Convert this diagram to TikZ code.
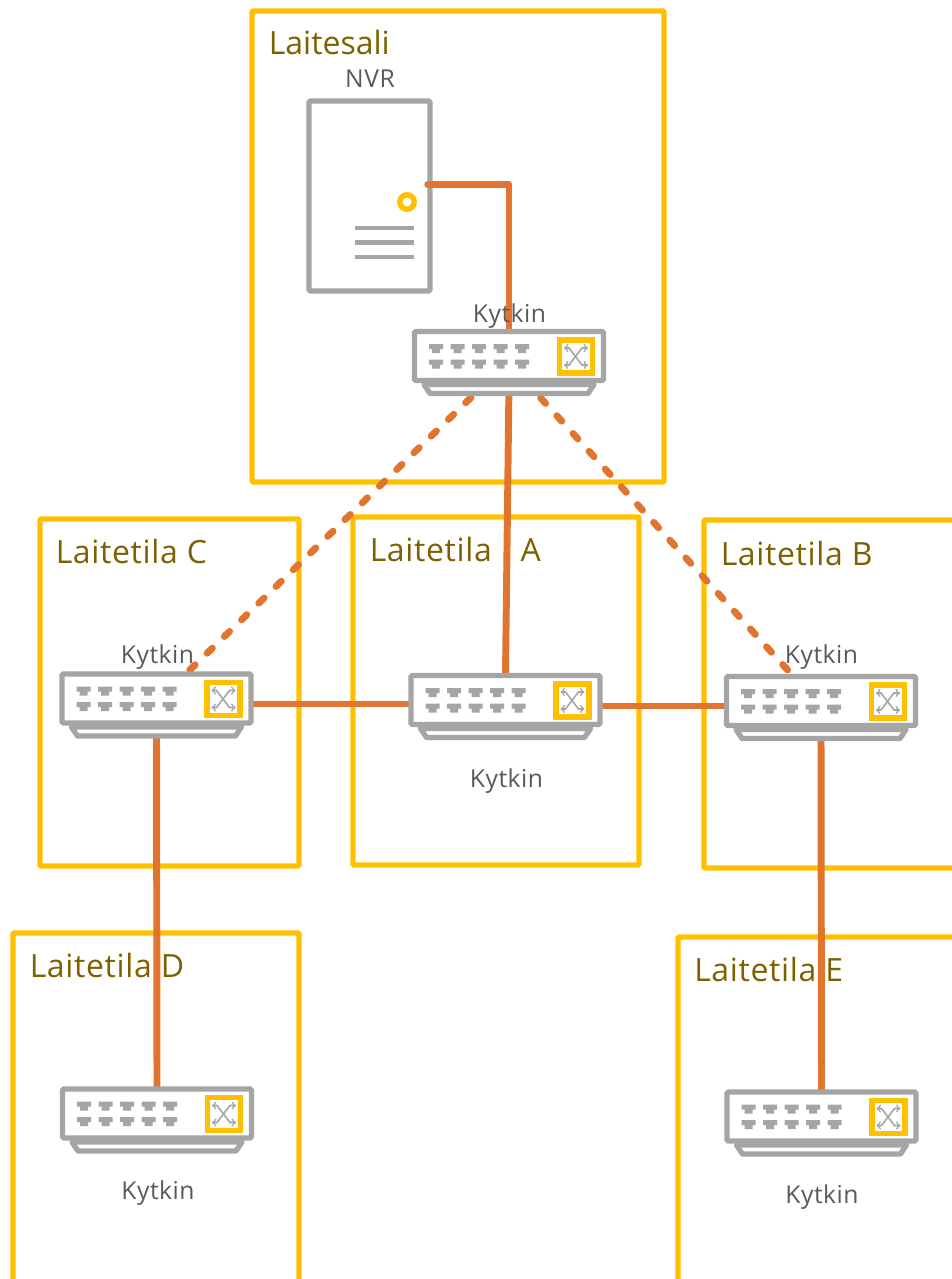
\documentclass[tikz,border=0pt]{standalone}
\usepackage{fontspec}
\setmainfont{Open Sans}
\usepackage{xcolor}
\usetikzlibrary{backgrounds}
\definecolor{roomyellow}{HTML}{FFC000}
\definecolor{roomtext}{HTML}{7F6000}
\definecolor{devgray}{HTML}{A5A5A5}
\definecolor{labelgray}{HTML}{595959}
\definecolor{linkorange}{HTML}{E1752F}

\begin{document}
\begin{tikzpicture}[x=0.75pt,y=-0.75pt,
    room/.style={draw=roomyellow,line width=4pt,rounded corners=0.8pt,inner sep=0pt},
    roomlabel/.style={text=roomtext,font=\fontsize{24}{28}\selectfont,anchor=base west,inner sep=0pt},
    tilalabel/.style={roomlabel,font=\fontsize{24}{28}\selectfont\addfontfeature{LetterSpace=2}},
    devlabel/.style={text=labelgray,font=\fontsize{18.5}{22}\selectfont\addfontfeature{LetterSpace=2},anchor=base,inner sep=0pt},
    link/.style={draw=linkorange,line width=5.2pt,line join=round,line cap=round},
    dashlink/.style={link,dash pattern=on 5.5pt off 12.5pt},
    devbody/.style={draw=devgray,line width=4pt,fill=white,rounded corners=1pt,inner sep=0pt},
    port/.style={fill=devgray,draw=none},
    kytkin/.pic={
      \draw[draw=devgray,line width=4pt,fill=white,line join=round]
        (-85,28.5) -- (-79,37.5) -- (79,37.5) -- (85,28.5) -- cycle;
      \node[devbody,minimum width=141.75pt,minimum height=36.75pt] (-body) at (0,0) {};
      \foreach \px in {-73,-51.5,-30,-8.5,13} {
        \foreach \py in {-12,3.5} {
          \fill[port] (\px-7,\py) -- (\px+7,\py) -- (\px+7,\py+5) -- (\px+4,\py+5)
            -- (\px+4,\py+9) -- (\px-4,\py+9) -- (\px-4,\py+5) -- (\px-7,\py+5) -- cycle;
        }
      }
      \draw[draw=roomyellow,line width=4.2pt,fill=white] (50.5,-16) rectangle (83.5,17);
      \draw[draw=devgray,line width=1.2pt,<->,>=to] (55,-8) -- (60,-8) -- (73,9) -- (79,9);
      \draw[draw=devgray,line width=1.2pt,<->,>=to] (55,9) -- (60,9) -- (73,-8) -- (79,-8);
    }]

    \useasboundingbox (0,0) rectangle (952,1279);

    % switches
    \pic (swT) at (509,356) {kytkin};
    \pic (swC) at (156.5,698.5) {kytkin};
    \pic (swA) at (505.5,700) {kytkin};
    \pic (swB) at (821,701) {kytkin};
    \pic (swD) at (157,1113.5) {kytkin};
    \pic (swE) at (821.5,1116.5) {kytkin};

    \begin{scope}[on background layer]
    % rooms
    \node[room,minimum width=309pt,minimum height=353.25pt] (roomSali) at (458,246.5) {};
    \node[room,minimum width=194.25pt,minimum height=260.25pt] (roomC) at (169.5,692.5) {};
    \node[room,minimum width=214.5pt,minimum height=261pt] (roomA) at (496,691) {};
    \node[room,minimum width=192pt,minimum height=261pt] (roomB) at (832,694) {};
    \node[room,minimum width=214.5pt,minimum height=268.5pt] (roomD) at (156,1112) {};
    \node[room,minimum width=211.5pt,minimum height=265.5pt] (roomE) at (819,1114) {};

    % NVR
    \node[devbody,minimum width=90.75pt,minimum height=142.5pt] (nvr) at (369.5,196) {};
    \fill[roomyellow] (407,202) circle (10);
    \fill[white] (407,202) circle (4.5);
    \draw[devgray,line width=3.4pt] (355,228) -- (414,228) (355,242.5) -- (414,242.5) (355,257) -- (414,257);

    % links
    \draw[link] ([xshift=-3.7pt,yshift=8.6pt]nvr.east) -| (swT-body.north);
    \draw[link] (swT-body.south) -- (swA-body.north);
    \draw[link] ([yshift=-4.1pt]swC-body.east) -- ([yshift=-4.1pt]swC-body.east -| swA-body.west);
    \draw[link] ([yshift=-4.5pt]swA-body.east) -- ([yshift=-4.5pt]swA-body.east -| swB-body.west);
    \draw[link] (swC-body.south) -- (swD-body.north);
    \draw[link] (swB-body.south) -- (swE-body.north);
    \draw[dashlink,dash phase=2.45pt] ([xshift=-17.4pt]swT-body.south) -- ([xshift=23.9pt]swC-body.north);
    \draw[dashlink,dash phase=3pt] ([xshift=13.7pt]swT-body.south) -- ([xshift=-22.4pt]swB-body.north);
    \end{scope}

    % labels
    \node[roomlabel] (lblSali) at (268.5,54.5) {Laitesali};
    \node[tilalabel] (lblC) at (55.5,563) {Laitetila C};
    \node[tilalabel] (lblA) at (369.5,561) {Laitetila\hspace{21.5pt}A};
    \node[tilalabel] (lblB) at (720.5,565) {Laitetila B};
    \node[tilalabel] (lblD) at (29.5,977) {Laitetila D};
    \node[tilalabel] (lblE) at (694,981) {Laitetila E};
    \node[devlabel] (lblNvr) at (370,87) {NVR};
    \node[devlabel] (lblT) at (509.5,322) {Kytkin};
    \node[devlabel] (lblKC) at (157.5,663) {Kytkin};
    \node[devlabel] (lblKA) at (506.5,787) {Kytkin};
    \node[devlabel] (lblKB) at (821.5,663) {Kytkin};
    \node[devlabel] (lblKD) at (158,1199) {Kytkin};
    \node[devlabel] (lblKE) at (822,1203) {Kytkin};
\end{tikzpicture}
\end{document}
